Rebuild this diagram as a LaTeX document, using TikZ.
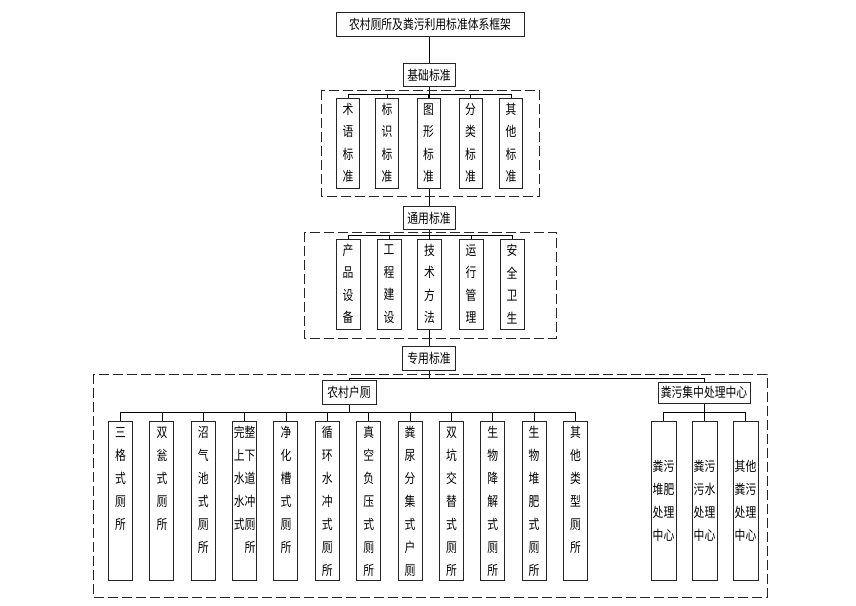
\documentclass[tikz,border=0pt]{standalone}
\usepackage{fontspec}
\setmainfont[FakeStretch=0.8]{Noto Sans CJK SC}
\usetikzlibrary{backgrounds}
\newcommand{\topcol}[1]{\parbox[c][159pt][t]{24pt}{\centering\rule{0pt}{16.1pt}#1}}
\begin{document}
\begin{tikzpicture}[x=1pt,y=-1pt,
  box/.style={draw=black!85, line width=0.9pt, fill=white, inner sep=0pt, font=\fontsize{13.5}{15}\selectfont},
  hbox/.style={box, minimum height=23pt, minimum width=52pt},
  col/.style={box, minimum width=23pt, minimum height=90pt, align=center, font=\fontsize{13.5}{22.5}\selectfont},
  tcol/.style={box, font=\fontsize{13.5}{23.1}\selectfont},
  ccol/.style={box, minimum width=25pt, minimum height=159pt, align=center, font=\fontsize{13.5}{23}\selectfont},
  frame/.style={draw=black!85, line width=0.9pt, dash pattern=on 10pt off 4pt},
  link/.style={draw=black, line width=0.8pt}]
\useasboundingbox (0,0) rectangle (856,605);
% title and stage boxes
\node[box, minimum width=188pt, minimum height=24pt] (title) at (430,24) {农村厕所及粪污利用标准体系框架};
\node[hbox] (jc) at (429,75) {基础标准};
\node[hbox] (ty) at (429,218) {通用标准};
\node[hbox, minimum width=53pt, minimum height=24pt] (zy) at (429,358.5) {专用标准};
% dashed frames
\draw[frame] (321,90) rectangle (539,196);
\draw[frame] (304,232) rectangle (556,338);
\draw[frame] (93,374) rectangle (767,597);
% basic standards
\node[col] (a1) at (348,143) {术\\语\\标\\准};
\node[col] (a2) at (387,143) {标\\识\\标\\准};
\node[col] (a3) at (428.5,143) {图\\形\\标\\准};
\node[col] (a4) at (470.5,143) {分\\类\\标\\准};
\node[col] (a5) at (511,143) {其\\他\\标\\准};
% general standards
\node[col, minimum width=24pt] (b1) at (348,284) {产\\品\\设\\备};
\node[col, minimum width=24pt] (b2) at (389,284) {工\\程\\建\\设};
\node[col, minimum width=24pt] (b3) at (429.5,284) {技\\术\\方\\法};
\node[col, minimum width=24pt] (b4) at (471,284) {运\\行\\管\\理};
\node[col, minimum width=24pt] (b5) at (512,284) {安\\全\\卫\\生};
% special standards
\node[box, minimum width=54pt, minimum height=24pt] (r0) at (349,392) {农村户厕};
\node[box, minimum width=92pt, minimum height=21pt] (c0) at (704,392.5) {粪污集中处理中心};
\node[tcol] (r1) at (120.5,500.5) {\topcol{三\\格\\式\\厕\\所}};
\node[tcol] (r2) at (161.9,500.5) {\topcol{双\\瓮\\式\\厕\\所}};
\node[tcol] (r3) at (203.2,500.5) {\topcol{沼\\气\\池\\式\\厕\\所}};
\node[tcol] (r4) at (244.6,500.5) {\topcol{完整\\上下\\水道\\水冲\\式厕\\\makebox[21.6pt][r]{所}}};
\node[tcol] (r5) at (285.9,500.5) {\topcol{净\\化\\槽\\式\\厕\\所}};
\node[tcol] (r6) at (327.3,500.5) {\topcol{循\\环\\水\\冲\\式\\厕\\所}};
\node[tcol] (r7) at (368.7,500.5) {\topcol{真\\空\\负\\压\\式\\厕\\所}};
\node[tcol] (r8) at (410,500.5) {\topcol{粪\\尿\\分\\集\\式\\户\\厕}};
\node[tcol] (r9) at (451.4,500.5) {\topcol{双\\坑\\交\\替\\式\\厕\\所}};
\node[tcol] (r10) at (492.7,500.5) {\topcol{生\\物\\降\\解\\式\\厕\\所}};
\node[tcol] (r11) at (534.1,500.5) {\topcol{生\\物\\堆\\肥\\式\\厕\\所}};
\node[tcol] (r12) at (575.5,500.5) {\topcol{其\\他\\类\\型\\厕\\所}};
\node[ccol] (c1) at (663.5,500.5) {粪污\\堆肥\\处理\\中心};
\node[ccol] (c2) at (704.5,500.5) {粪污\\污水\\处理\\中心};
\node[ccol] (c3) at (745.5,500.5) {其他\\粪污\\处理\\中心};
% bus coordinates
\coordinate (busA) at (0,94);
\coordinate (busB) at (0,235);
\coordinate (busC) at (0,378);
\coordinate (busR) at (0,412);
\begin{pgfonlayer}{background}
\draw[link] (jc.north |- title.south) -- (jc.north);
\draw[link] (jc.south) -- (ty.north);
\draw[link] (ty.south) -- (zy.north);
\draw[link] (a1.north) -- (a1.north |- busA) -- (a5.north |- busA) -- (a5.north);
\foreach \n in {a2,a3,a4} \draw[link] (\n.north) -- (\n.north |- busA);
\draw[link] (b1.north) -- (b1.north |- busB) -- (b5.north |- busB) -- (b5.north);
\foreach \n in {b2,b3,b4} \draw[link] (\n.north) -- (\n.north |- busB);
\draw[link] (zy.south) -- (zy.south |- busC);
\draw[link] (r0.north) -- (r0.north |- busC) -- (c0.north |- busC) -- (c0.north);
\draw[link] (r0.south) -- (r0.south |- busR);
\draw[link] (r1.north) -- (r1.north |- busR) -- (r12.north |- busR) -- (r12.north);
\foreach \n in {r2,r3,r4,r5,r6,r7,r8,r9,r10,r11} \draw[link] (\n.north) -- (\n.north |- busR);
\draw[link] (c0.south) -- (c0.south |- busR);
\draw[link] (c1.north) -- (c1.north |- busR) -- (c3.north |- busR) -- (c3.north);
\draw[link] (c2.north) -- (c2.north |- busR);
\end{pgfonlayer}
\end{tikzpicture}
\end{document}
